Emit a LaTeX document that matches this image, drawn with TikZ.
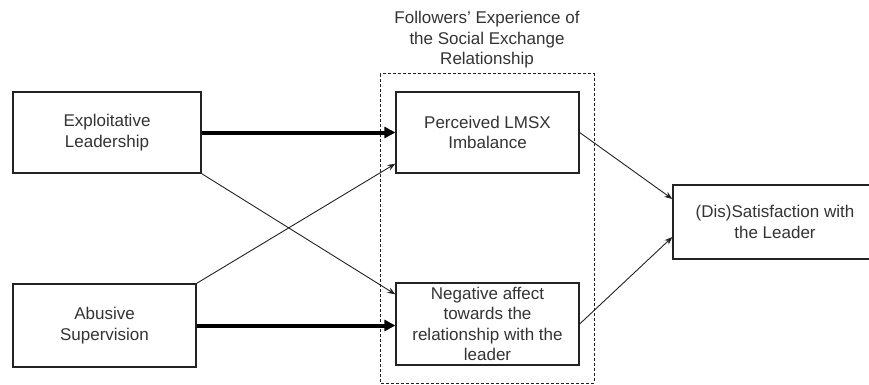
\documentclass[tikz,border=0pt]{standalone}
\usepackage{fontspec}
\setmainfont{Liberation Sans}
\usepackage{tikz}
\usetikzlibrary{arrows.meta,calc}
\definecolor{charcoal}{RGB}{34, 34, 34}
\definecolor{graphite}{RGB}{51, 51, 51}
\tikzset{
    box/.style        = {draw=charcoal, line width=1.3pt, align=center, text=graphite,
                         font=\fontsize{17}{20.5}\selectfont, inner sep=0pt},
    thinarrow/.style  = {draw=charcoal, line width=0.9pt, -{Stealth[length=8pt, width=6pt]}},
    thickarrow/.style = {draw=black, line width=4pt, -{Triangle[length=11pt, width=11pt]}}
}

\begin{document}
\begin{tikzpicture}[x=1pt, y=-1pt]
            \useasboundingbox (0, 0) rectangle (869, 385);
            \clip                                                         (0, 0) rectangle (869, 385);
            \node[box, minimum width=188pt, minimum height=81pt] (Exploit)    at (107.0, 132.5) {Exploitative\\Leadership};
            \node[box, minimum width=183pt, minimum height=83pt] (Abusive)    at (104.5, 325.5) {Abusive\\Supervision};
            \node[box, minimum width=183pt, minimum height=81pt] (Perceived)  at (487.5, 132.5) {Perceived LMSX\\Imbalance};
            \node[box, minimum width=183pt, minimum height=82pt] (Negative)   at (487.5, 324.0) {Negative affect\\towards the\\relationship with the\\leader};
            \node[box, minimum width=204pt, minimum height=74pt] (Dis)        at (775.0, 222.0) {(Dis)Satisfaction with\\the Leader};
            \node[box, draw=none]                                (Followers)  at (487.0,  40.0) {Followers' Experience of\\the Social Exchange\\Relationship};
            \draw[charcoal, line width=1pt, dash pattern=on 3pt off 2pt]  (380, 74) rectangle (594, 383);
            \draw[thickarrow] (Exploit.east) -- (Perceived.west);
            \draw[thickarrow] (Abusive.east) -- (Negative.west |- Abusive.east);
            \draw[thinarrow]  (Exploit.south east) -- ($(Negative.north west)+(0,12)$);
            \draw[thinarrow]  (Abusive.north east) -- ($(Perceived.south west)+(0,-10)$);
            \draw[thinarrow]  (Perceived.east) -- ($(Dis.west)+(0,-23)$);
            \draw[thinarrow]  (Negative.east) -- ($(Dis.west)+(0,15)$);
        \end{tikzpicture}
\end{document}
